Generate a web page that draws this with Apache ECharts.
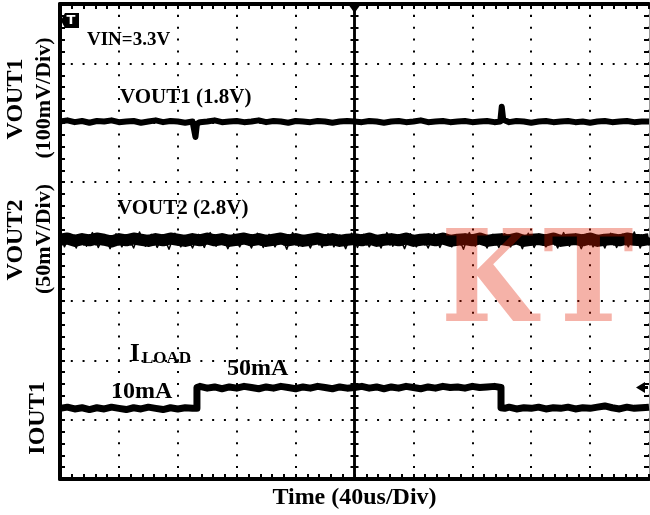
<!DOCTYPE html>
<html><head><meta charset="utf-8">
<script src="https://cdn.jsdelivr.net/npm/echarts@6/dist/echarts.min.js"></script>
<style>html,body{margin:0;padding:0;background:#fff}#c{width:650px;height:515px}</style>
</head><body><div id="c"></div>
<script>
// Time axis: microseconds relative to trigger (40 us/div, 10 div)
const timeMin = -200, timeMax = 200, timeDiv = 40;
// Vertical axis: screen divisions (8 div)
const divMin = -4, divMax = 4;

// VOUT1 trace [time us, div]  (100 mV/div, 1.8 V)
const vout1 = [[-200,2.02],[-195,2.04],[-190,2.01],[-185,2.03],[-180,2.00],[-175,2.03],[-170,2.02],[-165,2.04],[-160,2.01],[-155,2.02],[-150,2.03],[-145,2.00],[-140,2.02],[-135,2.04],[-130,2.01],[-125,2.03],[-120,2.02],[-115,2.00],[-110,2.02],[-109,2.03],[-108,1.76],[-107,1.98],[-105,2.01],[-100,2.02],[-95,2.04],[-90,2.01],[-85,2.02],[-80,2.03],[-75,2.01],[-70,2.02],[-65,2.04],[-60,2.01],[-55,2.03],[-50,2.02],[-45,2.00],[-40,2.03],[-35,2.02],[-30,2.01],[-25,2.03],[-20,2.02],[-15,2.00],[-10,2.02],[-5,2.03],[0,2.02],[5,2.01],[10,2.03],[15,2.02],[20,2.00],[25,2.02],[30,2.03],[35,2.01],[40,2.02],[45,2.04],[50,2.01],[55,2.02],[60,2.03],[65,2.01],[70,2.02],[75,2.03],[80,2.01],[85,2.02],[90,2.03],[95,2.01],[99,2.02],[100,2.27],[101,2.05],[102,2.02],[105,2.01],[110,2.03],[115,2.02],[120,2.00],[125,2.02],[130,2.03],[135,2.01],[140,2.02],[145,2.03],[150,2.01],[155,2.02],[160,2.00],[165,2.02],[170,2.03],[175,2.01],[180,2.02],[185,2.03],[190,2.01],[195,2.02],[200,2.02]];

// VOUT2 trace [time us, div]  (50 mV/div, 2.8 V)
const vout2 = [[-200,.03],[-195,.05],[-190,.01],[-185,.04],[-180,.02],[-175,.05],[-170,.03],[-165,.00],[-160,.04],[-155,.02],[-150,.05],[-145,.03],[-140,.01],[-135,.04],[-130,.02],[-125,.05],[-120,.03],[-115,.01],[-110,.04],[-105,.02],[-100,.05],[-95,.02],[-90,.04],[-85,.01],[-80,.03],[-75,.05],[-70,.02],[-65,.04],[-60,.01],[-55,.03],[-50,.05],[-45,.02],[-40,.04],[-35,.01],[-30,.03],[-25,.05],[-20,.02],[-15,.04],[-10,.01],[-5,.03],[0,.04],[5,.02],[10,.05],[15,.01],[20,.03],[25,.04],[30,.02],[35,.05],[40,.01],[45,.03],[50,.04],[55,.02],[60,.05],[65,.01],[70,.03],[75,.04],[80,.02],[85,.05],[90,.01],[95,.03],[100,.04],[105,.02],[110,.05],[115,.01],[120,.03],[125,.04],[130,.02],[135,.05],[140,.01],[145,.03],[150,.04],[155,.02],[160,.05],[165,.01],[170,.03],[175,.04],[180,.02],[185,.05],[190,.03],[195,.02],[200,.04]];
// VOUT2 noise peaks (fuzzy edges of the band)
const vout2Peaks = [[-200,.14],[-197,-.09],[-193,.12],[-189,-.11],[-186,.10],[-182,-.08],[-178,.15],[-174,-.10],[-170,.11],[-166,-.12],[-162,.13],[-158,-.09],[-154,.10],[-150,-.11],[-146,.16],[-142,-.08],[-138,.12],[-134,-.10],[-130,.11],[-126,-.13],[-122,.14],[-118,-.09],[-114,.10],[-110,-.11],[-106,.12],[-102,-.10],[-98,.15],[-94,-.08],[-90,.11],[-86,-.12],[-82,.13],[-78,-.09],[-74,.10],[-70,-.11],[-66,.14],[-62,-.10],[-58,.12],[-54,-.09],[-50,.11],[-46,-.13],[-42,.15],[-38,-.08],[-34,.10],[-30,-.11],[-26,.12],[-22,-.10],[-18,.13],[-14,-.09],[-10,.11],[-6,-.12],[-2,.14],[2,-.10],[6,.12],[10,-.09],[14,.10],[18,-.11],[22,.15],[26,-.08],[30,.11],[34,-.12],[38,.13],[42,-.09],[46,.10],[50,-.11],[54,.14],[58,-.10],[62,.12],[66,-.09],[70,.11],[74,-.13],[78,.15],[82,-.08],[86,.10],[90,-.11],[94,.12],[98,-.10],[102,.13],[106,-.09],[110,.11],[114,-.12],[118,.14],[122,-.10],[126,.12],[130,-.09],[134,.10],[138,-.11],[142,.15],[146,-.08],[150,.11],[154,-.12],[158,.13],[162,-.09],[166,.10],[170,-.11],[174,.14],[178,-.10],[182,.12],[186,-.09],[190,.16],[194,-.11],[198,.12],[200,.03]];

// IOUT1 trace [time us, div]  (10 mA -> 50 mA -> 10 mA load step)
const iout1 = [[-200,-2.81],[-195,-2.79],[-190,-2.82],[-185,-2.80],[-180,-2.83],[-175,-2.80],[-170,-2.82],[-165,-2.79],[-160,-2.81],[-155,-2.83],[-150,-2.80],[-145,-2.82],[-140,-2.79],[-135,-2.81],[-130,-2.83],[-125,-2.80],[-120,-2.82],[-115,-2.80],[-110,-2.81],[-107,-2.81],[-107,-2.46],[-105,-2.44],[-100,-2.47],[-95,-2.45],[-90,-2.48],[-85,-2.45],[-80,-2.47],[-75,-2.44],[-70,-2.46],[-65,-2.48],[-60,-2.45],[-55,-2.47],[-50,-2.44],[-45,-2.46],[-40,-2.48],[-35,-2.45],[-30,-2.47],[-25,-2.44],[-20,-2.46],[-15,-2.48],[-10,-2.45],[-5,-2.47],[0,-2.46],[5,-2.44],[10,-2.47],[15,-2.45],[20,-2.48],[25,-2.45],[30,-2.47],[35,-2.44],[40,-2.46],[45,-2.48],[50,-2.45],[55,-2.47],[60,-2.44],[65,-2.46],[70,-2.45],[75,-2.47],[80,-2.44],[85,-2.46],[90,-2.45],[95,-2.44],[99.5,-2.46],[99.5,-2.80],[102,-2.81],[105,-2.79],[110,-2.82],[115,-2.80],[120,-2.81],[125,-2.79],[130,-2.82],[135,-2.80],[140,-2.81],[145,-2.79],[150,-2.82],[155,-2.80],[160,-2.81],[165,-2.79],[170,-2.77],[175,-2.80],[180,-2.82],[185,-2.79],[190,-2.81],[195,-2.80],[200,-2.79]];

// Labels
const xTitle = 'Time (40us/Div)';
const sideLabels = [['VOUT1','(100mV/Div)'],['VOUT2','(50mV/Div)'],['IOUT1']];
const traceLabels = ['VIN=3.3V','VOUT1 (1.8V)','VOUT2 (2.8V)','10mA','50mA'];
const watermark = ['K','T'];

const chart = echarts.init(document.getElementById('c'), null, {renderer:'canvas'});
const serif = '"Liberation Serif","Times New Roman",serif';
const black = '#000';

function borderX(pos, split) {
  return {
    type:'value', min:timeMin, max:timeMax, interval:timeDiv, position:pos,
    axisLine:{onZero:false, lineStyle:{color:black, width:4}},
    axisTick:{show:true, inside:true, length:5, lineStyle:{color:black, width:2}},
    minorTick:{show:true, splitNumber:5, length:5, lineStyle:{color:black, width:2}},
    axisLabel:{show:false},
    splitLine:{show:split, lineStyle:{color:black, width:2, type:[2,9.875], dashOffset:1}}
  };
}
function centerX(inside) {
  return {
    type:'value', min:timeMin, max:timeMax, interval:timeDiv, position:'bottom',
    axisLine:{onZero:true, onZeroAxisIndex:0, lineStyle:{color:black, width:2.5}},
    axisTick:{show:true, inside:inside, length:4, lineStyle:{color:black, width:2}},
    minorTick:{show:true, splitNumber:5, length:4, lineStyle:{color:black, width:2}},
    axisLabel:{show:false}, splitLine:{show:false}
  };
}
function borderY(pos, split, lineColor, lineWidth) {
  return {
    type:'value', min:divMin, max:divMax, interval:1, position:pos,
    axisLine:{onZero:false, lineStyle:{color:lineColor, width:lineWidth}},
    axisTick:{show:true, inside:true, length:5, lineStyle:{color:black, width:2}},
    minorTick:{show:true, splitNumber:5, length:5, lineStyle:{color:black, width:2}},
    axisLabel:{show:false},
    splitLine:{show:split, lineStyle:{color:black, width:2, type:[2,9.78], dashOffset:1}}
  };
}
function centerY(inside) {
  return {
    type:'value', min:divMin, max:divMax, interval:1, position:'left',
    axisLine:{onZero:true, onZeroAxisIndex:0, lineStyle:{color:black, width:2.5}},
    axisTick:{show:true, inside:inside, length:4, lineStyle:{color:black, width:2}},
    minorTick:{show:true, splitNumber:5, length:4, lineStyle:{color:black, width:2}},
    axisLabel:{show:false}, splitLine:{show:false}
  };
}

const xb = borderX('bottom', true);
xb.name = xTitle; xb.nameLocation = 'middle'; xb.nameGap = 7;
xb.nameTextStyle = {fontFamily:serif, fontWeight:'bold', fontSize:24, color:black, verticalAlign:'top'};

function txt(text, x, y, size) {
  return {
    type:'text', z:50,
    style:{text:text, x:x, y:y, font:'bold '+size+'px '+serif, fill:black,
      align:'left', verticalAlign:'middle', textAlign:'left', textVerticalAlign:'middle'}
  };
}
function rot(text, x, y, size) {
  return {
    type:'text', z:50, x:x, y:y, rotation:Math.PI/2,
    style:{text:text, x:0, y:0, font:'bold '+size+'px '+serif, fill:black,
      align:'center', verticalAlign:'middle', textAlign:'center', textVerticalAlign:'middle'}
  };
}
function mark(text, x, sx) {
  return {type:'text', z:100, x:x, y:288.5, scaleX:sx, scaleY:1,
    style:{text:text, x:0, y:0, font:'bold 127px "DejaVu Serif",serif', fill:'rgba(225,30,0,0.34)',
      align:'left', verticalAlign:'middle', textAlign:'left', textVerticalAlign:'middle'}};
}

const graphics = [
  // side labels
  rot(sideLabels[0][0], 16, 99, 24), rot(sideLabels[0][1], 44, 98, 22),
  rot(sideLabels[1][0], 16, 240, 24), rot(sideLabels[1][1], 44, 239, 22),
  rot(sideLabels[2][0], 38, 418, 24),
  // in-plot labels
  txt(traceLabels[0], 87, 40, 19),
  txt(traceLabels[1], 120, 98, 21),
  txt(traceLabels[2], 117, 209, 21),
  txt(traceLabels[3], 111, 392, 24),
  txt(traceLabels[4], 227, 369, 24),
  txt('I', 130, 355, 25),
  txt('LOAD', 142, 359, 17),
  // trigger icon
  {type:'polygon', z:50, shape:{points:[[61,20.5],[65,13],[79,13],[79,28],[65,28]]}, style:{fill:black}},
  {type:'text', z:51, style:{text:'T', x:71, y:21, font:'bold 13px "DejaVu Sans",sans-serif', fill:'#fff', align:'center', verticalAlign:'middle', textAlign:'center', textVerticalAlign:'middle'}},
  // trigger position marker (top centre)
  {type:'polygon', z:50, shape:{points:[[348,4],[361,4],[354.5,13]]}, style:{fill:black}},
  // channel reference marker (right)
  {type:'polygon', z:50, shape:{points:[[636,387.5],[645,382],[645,393]]}, style:{fill:black}},
  {type:'rect', z:50, shape:{x:643, y:386, width:5, height:3}, style:{fill:black}},
  // watermark
  mark(watermark[0], 441, 0.87),
  mark(watermark[1], 543, 0.96)
];

function trace(data, width) {
  return {type:'line', xAxisIndex:0, yAxisIndex:0, data:data, showSymbol:false, symbol:'none',
    lineStyle:{color:black, width:width, join:'round'}, animation:false, z:5, silent:true};
}

chart.setOption({
  animation:false,
  backgroundColor:'#fff',
  grid:{left:60, right:1, top:4, bottom:36, containLabel:false, outerBoundsMode:'none'},
  xAxis:[xb, borderX('top', false), centerX(true), centerX(false)],
  yAxis:[borderY('left', true, black, 4), borderY('right', false, '#999', 1), centerY(true), centerY(false)],
  series:[trace(vout1, 6), trace(vout2, 12), trace(vout2Peaks, 1.5), trace(iout1, 7)],
  graphic:graphics
});
</script>
</body></html>
